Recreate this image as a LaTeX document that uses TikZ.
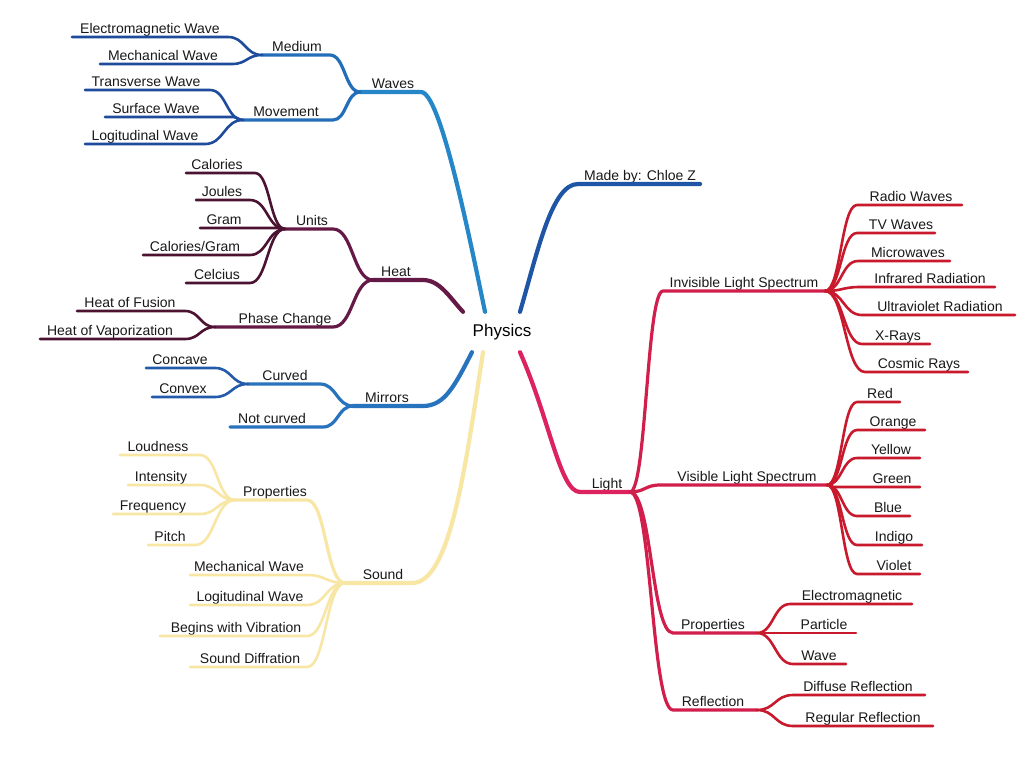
\documentclass[tikz,border=0pt]{standalone}
\usepackage{fontspec}
\setmainfont{Liberation Sans}
\usetikzlibrary{calc}
\definecolor{wavetrunk}{RGB}{38,135,200}
\definecolor{wavemid}{RGB}{34,110,185}
\definecolor{waveleaf}{RGB}{30,75,155}
\definecolor{heattrunk}{RGB}{100,25,70}
\definecolor{heatleaf}{RGB}{75,18,50}
\definecolor{mirrtrunk}{RGB}{40,115,190}
\definecolor{mirrleaf}{RGB}{35,90,170}
\definecolor{madec}{RGB}{30,85,165}
\definecolor{lighttrunk}{RGB}{220,35,95}
\definecolor{lightmid}{RGB}{210,30,75}
\definecolor{lightleaf}{RGB}{200,25,45}
\definecolor{soundc}{RGB}{248,230,165}
% name, x left, x right, y of underline, x of label, text
\newcommand\mmtopic[6]{%
  \coordinate (#1-l) at (#2,#4);
  \coordinate (#1-r) at (#3,#4);
  \node[lbl] (#1) at (#5,#4-3.5) {#6};}
% style, from, near end of child, far end of child
\newcommand\mmedge[4]{%
  \draw[#1] let \p1=(#2), \p2=(#3) in
    (\p1) .. controls ({(\x1+\x2)/2},\y1) and ({(\x1+\x2)/2},\y2) .. (\p2) -- (#4);}
\tikzset{
  lbl/.style={anchor=base,inner sep=0pt,font=\fontsize{14}{16}\selectfont,text=black!90},
  mmtrunk/.style={line width=4.2pt,line cap=round,line join=round},
  mmmid/.style={line width=3.2pt,line cap=round,line join=round},
  mmleaf/.style={line width=2.6pt,line cap=round,line join=round},
}
\begin{document}
\begin{tikzpicture}[x=1pt,y=-1pt]
\fill[white] (0,0) rectangle (1024,764);
\useasboundingbox (0,0) rectangle (1024,764);

\node[font=\fontsize{17}{20}\selectfont,minimum height=40pt,inner sep=0pt,text=black] (phys) at (502,332) {Physics};

% ---------------- Waves ----------------
\mmtopic{waves}{360}{421}{92}{393}{Waves}
\mmtopic{medium}{262}{330}{55}{297}{Medium}
\mmtopic{movement}{243}{333}{120}{286}{Movement}
\mmtopic{em}{72}{228}{37}{150}{Electromagnetic Wave}
\mmtopic{mech}{100}{232}{64}{163}{Mechanical Wave}
\mmtopic{trans}{85}{210}{90}{146}{Transverse Wave}
\mmtopic{surf}{105}{233}{117}{156}{Surface Wave}
\mmtopic{logi}{85}{205}{144}{145}{Logitudinal Wave}
\draw[mmtrunk,wavetrunk] ([xshift=-17pt]phys.north) .. controls (468,230) and (440,92) .. (waves-r) -- (waves-l);
\mmedge{mmmid,wavemid}{waves-l}{medium-r}{medium-l}
\mmedge{mmmid,wavemid}{waves-l}{movement-r}{movement-l}
\mmedge{mmleaf,waveleaf}{medium-l}{em-r}{em-l}
\mmedge{mmleaf,waveleaf}{medium-l}{mech-r}{mech-l}
\mmedge{mmleaf,waveleaf}{movement-l}{trans-r}{trans-l}
\mmedge{mmleaf,waveleaf}{movement-l}{surf-r}{surf-l}
\mmedge{mmleaf,waveleaf}{movement-l}{logi-r}{logi-l}

% ---------------- Heat ----------------
\mmtopic{heat}{373}{423}{280}{396}{Heat}
\mmtopic{units}{285}{333}{229}{312}{Units}
\mmtopic{phase}{215}{333}{327}{285}{Phase Change}
\mmtopic{cal}{186}{255}{173}{217}{Calories}
\mmtopic{joules}{196}{250}{200}{222}{Joules}
\mmtopic{gram}{200}{282}{228}{224}{Gram}
\mmtopic{calg}{143}{250}{255}{195}{Calories/Gram}
\mmtopic{celc}{186}{250}{283}{217}{Celcius}
\mmtopic{fusion}{77}{185}{311}{130}{Heat of Fusion}
\mmtopic{vapor}{40}{185}{339}{110}{Heat of Vaporization}
\draw[mmtrunk,heattrunk] ([xshift=-39pt]phys.north) .. controls (450,298) and (440,280) .. (heat-r) -- (heat-l);
\mmedge{mmmid,heattrunk}{heat-l}{units-r}{units-l}
\mmedge{mmmid,heattrunk}{heat-l}{phase-r}{phase-l}
\mmedge{mmleaf,heatleaf}{units-l}{cal-r}{cal-l}
\mmedge{mmleaf,heatleaf}{units-l}{joules-r}{joules-l}
\mmedge{mmleaf,heatleaf}{units-l}{gram-r}{gram-l}
\mmedge{mmleaf,heatleaf}{units-l}{calg-r}{calg-l}
\mmedge{mmleaf,heatleaf}{units-l}{celc-r}{celc-l}
\mmedge{mmleaf,heatleaf}{phase-l}{fusion-r}{fusion-l}
\mmedge{mmleaf,heatleaf}{phase-l}{vapor-r}{vapor-l}

% ---------------- Mirrors ----------------
\mmtopic{mirrors}{353}{423}{406}{387}{Mirrors}
\mmtopic{curved}{248}{320}{384}{285}{Curved}
\mmtopic{notc}{230}{323}{427}{272}{Not curved}
\mmtopic{concave}{146}{215}{368}{180}{Concave}
\mmtopic{convex}{152}{215}{397}{183}{Convex}
\draw[mmtrunk,mirrtrunk] ([xshift=-30pt]phys.south) .. controls (455,385) and (445,406) .. (mirrors-r) -- (mirrors-l);
\mmedge{mmmid,mirrtrunk}{mirrors-l}{curved-r}{curved-l}
\mmedge{mmmid,mirrtrunk}{mirrors-l}{notc-r}{notc-l}
\mmedge{mmleaf,mirrleaf}{curved-l}{concave-r}{concave-l}
\mmedge{mmleaf,mirrleaf}{curved-l}{convex-r}{convex-l}

% ---------------- Sound ----------------
\mmtopic{sound}{345}{412}{583}{383}{Sound}
\mmtopic{sprop}{235}{307}{500}{275}{Properties}
\mmtopic{loud}{120}{200}{455}{158}{Loudness}
\mmtopic{inten}{128}{200}{485}{161}{Intensity}
\mmtopic{freq}{113}{200}{514}{153}{Frequency}
\mmtopic{pitch}{148}{195}{545}{170}{Pitch}
\mmtopic{smech}{190}{307}{575}{249}{Mechanical Wave}
\mmtopic{slogi}{190}{307}{605}{250}{Logitudinal Wave}
\mmtopic{vib}{160}{307}{636}{236}{Begins with Vibration}
\mmtopic{sdiff}{190}{307}{667}{250}{Sound Diffration}
\draw[mmtrunk,soundc] ([xshift=-19pt]phys.south) .. controls (465,470) and (450,583) .. (sound-r) -- (sound-l);
\mmedge{mmmid,soundc}{sound-l}{sprop-r}{sprop-l}
\mmedge{mmleaf,soundc}{sound-l}{smech-r}{smech-l}
\mmedge{mmleaf,soundc}{sound-l}{slogi-r}{slogi-l}
\mmedge{mmleaf,soundc}{sound-l}{vib-r}{vib-l}
\mmedge{mmleaf,soundc}{sound-l}{sdiff-r}{sdiff-l}
\mmedge{mmleaf,soundc}{sprop-l}{loud-r}{loud-l}
\mmedge{mmleaf,soundc}{sprop-l}{inten-r}{inten-l}
\mmedge{mmleaf,soundc}{sprop-l}{freq-r}{freq-l}
\mmedge{mmleaf,soundc}{sprop-l}{pitch-r}{pitch-l}

% ---------------- Made by ----------------
\mmtopic{madeby}{578}{700}{184}{640}{Made by: Chloe Z}
\draw[mmtrunk,madec] ([xshift=18pt]phys.north) .. controls (538,250) and (552,184) .. (madeby-l) -- (madeby-r);

% ---------------- Light ----------------
\mmtopic{light}{580}{630}{492}{607}{Light}
\mmtopic{invis}{663}{825}{291}{744}{Invisible Light Spectrum}
\mmtopic{vis}{660}{827}{485}{747}{Visible Light Spectrum}
\mmtopic{lprop}{673}{757}{633}{713}{Properties}
\mmtopic{refl}{673}{757}{710}{713}{Reflection}
\mmtopic{radio}{857}{962}{205}{911}{Radio Waves}
\mmtopic{tv}{857}{935}{233}{901}{TV Waves}
\mmtopic{micro}{858}{950}{261}{908}{Microwaves}
\mmtopic{infra}{860}{995}{287}{930}{Infrared Radiation}
\mmtopic{ultra}{862}{1015}{315}{940}{Ultraviolet Radiation}
\mmtopic{xray}{862}{930}{344}{898}{X-Rays}
\mmtopic{cosmic}{865}{968}{372}{919}{Cosmic Rays}
\mmtopic{red}{857}{900}{402}{880}{Red}
\mmtopic{orange}{857}{925}{430}{893}{Orange}
\mmtopic{yellow}{857}{920}{458}{891}{Yellow}
\mmtopic{green}{835}{920}{487}{892}{Green}
\mmtopic{blue}{857}{910}{516}{888}{Blue}
\mmtopic{indigo}{857}{922}{545}{894}{Indigo}
\mmtopic{violet}{857}{920}{574}{894}{Violet}
\mmtopic{elec}{790}{912}{604}{852}{Electromagnetic}
\mmtopic{part}{760}{856}{633}{824}{Particle}
\mmtopic{wave}{793}{846}{664}{819}{Wave}
\mmtopic{diffuse}{793}{925}{695}{858}{Diffuse Reflection}
\mmtopic{regular}{793}{933}{726}{863}{Regular Reflection}
\draw[mmtrunk,lighttrunk] ([xshift=18pt]phys.south) .. controls (550,420) and (560,492) .. (light-l) -- (light-r);
\mmedge{mmmid,lightmid}{light-r}{invis-l}{invis-r}
\mmedge{mmmid,lightmid}{light-r}{vis-l}{vis-r}
\mmedge{mmmid,lightmid}{light-r}{lprop-l}{lprop-r}
\mmedge{mmmid,lightmid}{light-r}{refl-l}{refl-r}
\mmedge{mmleaf,lightleaf}{invis-r}{radio-l}{radio-r}
\mmedge{mmleaf,lightleaf}{invis-r}{tv-l}{tv-r}
\mmedge{mmleaf,lightleaf}{invis-r}{micro-l}{micro-r}
\mmedge{mmleaf,lightleaf}{invis-r}{infra-l}{infra-r}
\mmedge{mmleaf,lightleaf}{invis-r}{ultra-l}{ultra-r}
\mmedge{mmleaf,lightleaf}{invis-r}{xray-l}{xray-r}
\mmedge{mmleaf,lightleaf}{invis-r}{cosmic-l}{cosmic-r}
\mmedge{mmleaf,lightleaf}{vis-r}{red-l}{red-r}
\mmedge{mmleaf,lightleaf}{vis-r}{orange-l}{orange-r}
\mmedge{mmleaf,lightleaf}{vis-r}{yellow-l}{yellow-r}
\mmedge{mmleaf,lightleaf}{vis-r}{green-l}{green-r}
\mmedge{mmleaf,lightleaf}{vis-r}{blue-l}{blue-r}
\mmedge{mmleaf,lightleaf}{vis-r}{indigo-l}{indigo-r}
\mmedge{mmleaf,lightleaf}{vis-r}{violet-l}{violet-r}
\mmedge{mmleaf,lightleaf}{lprop-r}{elec-l}{elec-r}
\mmedge{mmleaf,lightleaf}{lprop-r}{part-l}{part-r}
\mmedge{mmleaf,lightleaf}{lprop-r}{wave-l}{wave-r}
\mmedge{mmleaf,lightleaf}{refl-r}{diffuse-l}{diffuse-r}
\mmedge{mmleaf,lightleaf}{refl-r}{regular-l}{regular-r}
\end{tikzpicture}
\end{document}
